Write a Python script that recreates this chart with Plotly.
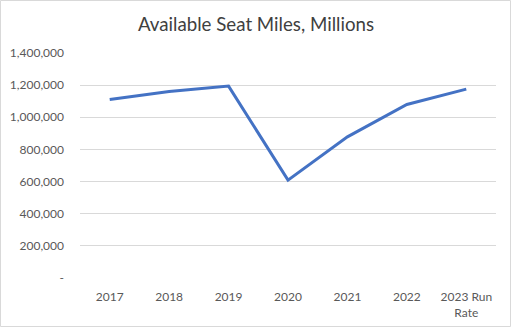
import plotly.graph_objects as go

categories = ["2017", "2018", "2019", "2020", "2021", "2022", "2023 Run<br>Rate"]
asm_millions = [1110000, 1160000, 1194000, 609000, 878000, 1080000, 1175000]
y_tick_vals = [0, 200000, 400000, 600000, 800000, 1000000, 1200000, 1400000]
y_tick_text = ["-", "200,000", "400,000", "600,000", "800,000", "1,000,000", "1,200,000", "1,400,000"]

W, H = 512, 328
L, R, T, B = 80, 16, 53, 50
pw, ph = W - L - R, H - T - B

fig = go.Figure()
fig.add_trace(go.Scatter(
    x=list(range(len(categories))), y=asm_millions, mode="lines",
    line=dict(color="#4472C4", width=3), hoverinfo="skip", showlegend=False,
))

font = "Lato, sans-serif"
fig.update_layout(
    width=W, height=H,
    margin=dict(l=L, r=R, t=T, b=B),
    paper_bgcolor="white", plot_bgcolor="white",
    font=dict(family=font, color="#595959", size=12),
    title=dict(text="Available Seat Miles, Millions", x=0.5, xanchor="center",
               y=1 - 24 / H, yanchor="middle",
               font=dict(size=18.7, color="#404040", family=font)),
    xaxis=dict(tickmode="array", tickvals=list(range(len(categories))), ticktext=categories,
               range=[-0.5, len(categories) - 0.5], showgrid=False, zeroline=False,
               showline=False, ticks="", ticklabelstandoff=10, automargin=False,
               tickfont=dict(size=12, color="#595959")),
    yaxis=dict(tickmode="array", tickvals=y_tick_vals, ticktext=y_tick_text,
               range=[0, 1400000], showgrid=True, gridcolor="#D9D9D9", gridwidth=1,
               zeroline=False, showline=False, ticks="", ticklabelstandoff=15, automargin=False,
               tickfont=dict(size=12, color="#595959")),
    shapes=[dict(type="rect", xref="paper", yref="paper",
                 x0=(0.5 - L) / pw, x1=(510.5 - L) / pw,
                 y0=-(326.5 - T - ph) / ph, y1=1 + (T - 0.5) / ph,
                 line=dict(color="#D9D9D9", width=1), layer="below")],
)
fig.write_html("out.html")
